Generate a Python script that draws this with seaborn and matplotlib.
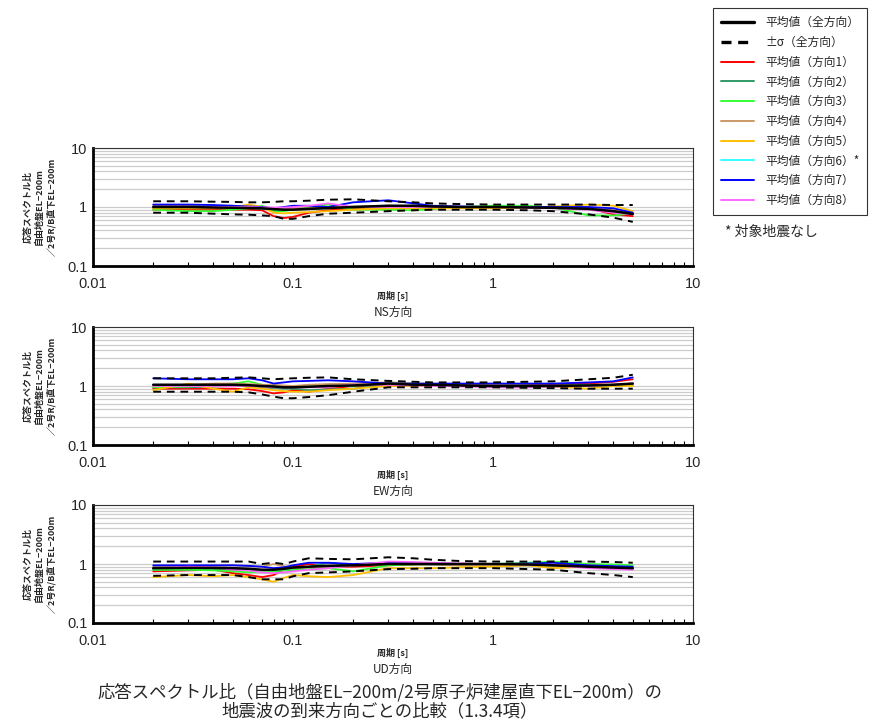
import numpy as np
import pandas as pd
import seaborn as sns
import matplotlib
matplotlib.use("Agg")
import matplotlib.pyplot as plt
from matplotlib.ticker import LogLocator, FixedLocator, NullFormatter
from matplotlib.lines import Line2D

# ---------------- data ----------------
period = [0.02, 0.03, 0.04, 0.05, 0.06, 0.07, 0.08, 0.09, 0.1, 0.12, 0.15,
          0.2, 0.3, 0.4, 0.5, 0.7, 1.0, 1.5, 2.0, 3.0, 4.0, 5.0]

series_names = ["平均値（全方向）", "±σ（全方向）", "平均値（方向1）", "平均値（方向2）", "平均値（方向3）",
                "平均値（方向4）", "平均値（方向5）", "平均値（方向6）*", "平均値（方向7）", "平均値（方向8）"]
panel_labels = ["NS方向", "EW方向", "UD方向"]

# NS
ns_mean = [1.00, 1.00, 0.98, 0.97, 0.96, 0.95, 0.92, 0.90, 0.90, 0.93, 0.96, 1.00, 1.05, 1.05, 1.02, 1.00, 1.00, 0.98, 0.97, 0.93, 0.85, 0.76]
ns_up   = [1.25, 1.25, 1.23, 1.22, 1.20, 1.20, 1.22, 1.25, 1.25, 1.28, 1.33, 1.35, 1.25, 1.20, 1.15, 1.12, 1.10, 1.10, 1.10, 1.10, 1.08, 1.08]
ns_lo   = [0.80, 0.80, 0.77, 0.75, 0.74, 0.72, 0.70, 0.63, 0.63, 0.70, 0.77, 0.80, 0.85, 0.88, 0.90, 0.90, 0.90, 0.88, 0.85, 0.75, 0.66, 0.56]
ns_d1   = [0.90, 0.90, 0.90, 0.90, 0.90, 0.88, 0.70, 0.65, 0.68, 0.80, 0.88, 0.95, 1.00, 1.00, 1.00, 1.00, 1.00, 0.98, 0.97, 0.95, 0.75, 0.70]
ns_d2   = [0.95, 0.95, 0.95, 0.95, 0.95, 0.93, 0.90, 0.88, 0.90, 0.92, 0.95, 0.98, 1.02, 1.00, 1.00, 1.00, 1.00, 1.00, 1.00, 0.95, 0.82, 0.78]
ns_d3   = [0.90, 0.85, 0.85, 0.90, 0.95, 1.05, 0.85, 0.85, 0.90, 1.00, 1.10, 0.90, 0.90, 0.88, 0.92, 1.00, 1.05, 1.05, 0.98, 0.72, 0.72, 0.78]
ns_d4   = [1.05, 1.05, 1.05, 1.05, 1.02, 1.00, 0.95, 0.92, 0.95, 0.95, 0.98, 1.02, 1.05, 1.02, 1.00, 1.00, 1.00, 1.00, 1.00, 0.98, 0.88, 0.82]
ns_d5   = [0.95, 0.95, 0.95, 0.98, 1.10, 1.00, 0.80, 0.78, 0.80, 0.82, 0.85, 0.90, 0.95, 0.95, 0.95, 0.95, 0.95, 0.98, 1.02, 1.10, 1.05, 0.85]
ns_d7   = [1.10, 1.10, 1.08, 1.05, 1.02, 1.00, 0.95, 1.00, 1.05, 1.05, 1.00, 1.20, 1.30, 1.15, 1.05, 1.02, 1.00, 1.00, 1.00, 1.00, 0.95, 0.80]
ns_d8   = [1.00, 1.00, 1.00, 1.00, 1.00, 0.98, 0.98, 0.98, 1.00, 1.05, 1.15, 1.00, 1.00, 1.00, 1.00, 1.00, 1.00, 0.98, 0.95, 0.90, 0.80, 0.75]

# EW
ew_mean = [1.05, 1.05, 1.05, 1.05, 1.03, 1.00, 0.98, 0.95, 0.95, 0.97, 1.00, 1.02, 1.10, 1.05, 1.05, 1.02, 1.00, 1.00, 1.00, 1.02, 1.05, 1.10]
ew_up   = [1.35, 1.35, 1.35, 1.38, 1.40, 1.35, 1.30, 1.33, 1.35, 1.38, 1.40, 1.30, 1.22, 1.18, 1.15, 1.15, 1.15, 1.18, 1.20, 1.30, 1.38, 1.55]
ew_lo   = [0.80, 0.80, 0.80, 0.80, 0.78, 0.72, 0.66, 0.62, 0.62, 0.65, 0.70, 0.80, 0.95, 0.95, 0.95, 0.95, 0.95, 0.93, 0.92, 0.90, 0.90, 0.90]
ew_d1   = [0.90, 0.90, 0.90, 0.90, 0.88, 0.82, 0.75, 0.78, 0.85, 0.80, 0.90, 1.00, 1.00, 1.00, 1.00, 1.02, 1.05, 1.05, 1.05, 1.10, 1.18, 1.30]
ew_d2   = [0.95, 0.95, 0.98, 1.00, 1.00, 0.95, 0.92, 0.90, 0.90, 0.85, 0.88, 0.90, 1.10, 1.05, 1.02, 1.00, 1.00, 1.00, 1.02, 1.05, 1.05, 1.05]
ew_d3   = [0.95, 0.98, 1.05, 1.10, 1.20, 1.05, 1.00, 0.98, 0.95, 0.98, 1.00, 1.00, 1.15, 1.10, 1.08, 1.05, 1.05, 1.02, 1.00, 1.00, 1.02, 1.05]
ew_d4   = [1.00, 1.05, 1.10, 1.10, 1.08, 1.05, 1.05, 1.02, 1.00, 1.05, 1.08, 1.10, 1.15, 1.10, 1.08, 1.05, 1.05, 1.02, 1.00, 1.00, 1.05, 1.10]
ew_d5   = [0.85, 1.10, 0.90, 0.80, 0.95, 0.90, 0.85, 0.82, 0.80, 0.80, 0.85, 0.90, 1.00, 1.00, 1.00, 1.00, 1.00, 1.00, 0.98, 0.90, 1.00, 1.00]
ew_d7   = [1.35, 1.30, 1.30, 1.30, 1.35, 1.25, 1.10, 1.15, 1.20, 1.22, 1.25, 1.20, 1.10, 1.10, 1.10, 1.10, 1.10, 1.10, 1.10, 1.15, 1.20, 1.40]
ew_d8   = [1.00, 1.00, 1.00, 1.00, 1.00, 0.98, 0.95, 0.95, 0.95, 0.95, 0.95, 1.05, 1.05, 1.02, 1.00, 0.98, 0.95, 0.95, 0.98, 1.00, 1.05, 1.10]

# UD
ud_mean = [0.85, 0.86, 0.86, 0.85, 0.83, 0.80, 0.80, 0.83, 0.87, 0.90, 0.93, 0.95, 1.00, 1.00, 1.00, 1.00, 1.00, 0.98, 0.95, 0.90, 0.87, 0.85]
ud_up   = [1.10, 1.10, 1.10, 1.10, 1.10, 1.00, 1.05, 1.00, 1.10, 1.25, 1.22, 1.20, 1.30, 1.25, 1.18, 1.12, 1.10, 1.10, 1.10, 1.10, 1.08, 1.05]
ud_lo   = [0.63, 0.65, 0.65, 0.65, 0.60, 0.55, 0.55, 0.55, 0.62, 0.70, 0.72, 0.75, 0.82, 0.83, 0.85, 0.85, 0.85, 0.82, 0.80, 0.70, 0.65, 0.60]
ud_d1   = [0.75, 0.78, 0.80, 0.70, 0.65, 0.60, 0.65, 0.80, 0.90, 1.00, 0.90, 0.90, 0.95, 0.98, 1.00, 1.00, 1.00, 0.98, 0.97, 0.95, 0.90, 0.85]
ud_d2   = [0.80, 0.80, 0.80, 0.80, 0.78, 0.75, 0.75, 0.78, 0.80, 0.90, 1.05, 0.95, 1.00, 1.00, 0.98, 0.95, 0.95, 0.95, 0.93, 0.90, 0.88, 0.85]
ud_d3   = [0.80, 0.80, 0.78, 0.75, 0.72, 0.75, 0.75, 0.78, 0.80, 0.82, 0.85, 0.75, 0.95, 0.98, 1.00, 1.00, 1.00, 1.05, 1.10, 1.00, 0.98, 0.95]
ud_d4   = [0.90, 0.92, 0.93, 0.95, 0.92, 0.90, 1.00, 0.92, 0.85, 0.88, 0.90, 0.95, 1.00, 1.00, 0.98, 0.95, 0.95, 0.95, 0.95, 0.95, 0.90, 0.85]
ud_d5   = [0.60, 0.65, 0.62, 0.65, 0.60, 0.55, 0.50, 0.58, 0.65, 0.62, 0.60, 0.65, 0.85, 0.85, 0.85, 0.88, 0.90, 0.95, 0.85, 0.90, 0.88, 0.85]
ud_d7   = [0.95, 0.95, 0.95, 0.95, 0.93, 0.90, 0.85, 0.88, 0.95, 1.05, 1.05, 1.00, 1.05, 1.05, 1.02, 1.00, 1.00, 1.02, 1.05, 0.95, 0.92, 0.90]
ud_d8   = [0.85, 0.90, 0.88, 0.80, 0.78, 0.72, 0.70, 0.72, 0.75, 0.80, 0.85, 0.95, 1.10, 1.08, 1.05, 1.02, 1.00, 0.98, 0.95, 0.85, 0.82, 0.80]

panels = [
    dict(mean=ns_mean, up=ns_up, lo=ns_lo, dirs=[ns_d1, ns_d2, ns_d3, ns_d4, ns_d5, None, ns_d7, ns_d8]),
    dict(mean=ew_mean, up=ew_up, lo=ew_lo, dirs=[ew_d1, ew_d2, ew_d3, ew_d4, ew_d5, None, ew_d7, ew_d8]),
    dict(mean=ud_mean, up=ud_up, lo=ud_lo, dirs=[ud_d1, ud_d2, ud_d3, ud_d4, ud_d5, None, ud_d7, ud_d8]),
]

dir_colors = ["#ff0000", "#339966", "#33ff33", "#cc9966", "#ffc000", "#33ffff", "#0000ff", "#ff66ff"]

# ---------------- style ----------------
sns.set_theme(style="white")
plt.rcParams['font.family'] = ['Noto Sans CJK JP', 'DejaVu Sans']

fig = plt.figure(figsize=(8.72, 7.28), dpi=100)

ylabel = "応答スペクトル比\n自由地盤EL−200m\n／2号R/B直下EL−200m"
bottoms = [1 - 266 / 728, 1 - 445 / 728, 1 - 623 / 728]
for pi, (pan, b) in enumerate(zip(panels, bottoms)):
    ax = fig.add_axes([93 / 872, b, 600 / 872, 118 / 728])
    ax.set_xscale("log")
    ax.set_yscale("log")
    ax.set_xlim(0.01, 10)
    ax.set_ylim(0.1, 10)
    ax.yaxis.set_major_locator(FixedLocator([0.1, 1, 10]))
    ax.yaxis.set_minor_locator(LogLocator(base=10, subs=np.arange(2, 10)))
    ax.yaxis.set_minor_formatter(NullFormatter())
    ax.set_yticklabels(["0.1", "1", "10"])
    ax.grid(True, axis="y", which="both", color="#cccccc", linewidth=0.9)
    ax.grid(False, axis="x", which="both")
    ax.xaxis.set_major_locator(FixedLocator([0.01, 0.1, 1, 10]))
    ax.set_xticklabels(["0.01", "0.1", "1", "10"])
    ax.xaxis.set_minor_locator(LogLocator(base=10, subs=np.arange(2, 10)))
    ax.xaxis.set_minor_formatter(NullFormatter())
    ax.tick_params(axis="x", which="both", direction="in", length=3, width=0.8,
                   color="black", bottom=True, labelsize=10.5, pad=8)
    ax.tick_params(axis="y", which="both", length=0, labelsize=10.5, pad=4)
    for t in ax.get_xticklabels() + ax.get_yticklabels():
        t.set_family(["Liberation Sans", "DejaVu Sans"])

    for s in ["left", "bottom"]:
        ax.spines[s].set_color("black")
        ax.spines[s].set_linewidth(2)
    for s in ["top", "right"]:
        ax.spines[s].set_color("#333333")
        ax.spines[s].set_linewidth(0.8)

    for i, d in enumerate(pan["dirs"]):
        if d is None:
            continue
        sns.lineplot(x=period, y=d, ax=ax, color=dir_colors[i], linewidth=1.3,
                     estimator=None, sort=False)
    sns.lineplot(x=period, y=pan["mean"], ax=ax, color="black", linewidth=1.8,
                 estimator=None, sort=False)
    for band in (pan["up"], pan["lo"]):
        sns.lineplot(x=period, y=band, ax=ax, color="black", linewidth=1.4,
                     linestyle=(0, (4, 3)), estimator=None, sort=False)

    ax.set_xlabel("")
    ax.set_ylabel(ylabel, fontsize=6.5, fontweight="bold", linespacing=1.3, labelpad=8)
    ax.text(0.5, -0.255, "周期 [s]", transform=ax.transAxes, ha="center", va="center",
            fontsize=6.5, fontweight="bold")
    ax.text(0.5, -0.39, panel_labels[pi], transform=ax.transAxes, ha="center", va="center",
            fontsize=8.5)

# legend
handles = [Line2D([], [], color="black", linewidth=2.4),
           Line2D([], [], color="black", linewidth=2.4, linestyle=(0, (3, 2)))]
handles += [Line2D([], [], color=c, linewidth=1.4) for c in dir_colors]
leg = fig.legend(handles, series_names, loc="upper left",
                 bbox_to_anchor=(713 / 872, 1 - 8 / 728), frameon=True, fontsize=8.5,
                 handlelength=2.8, labelspacing=0.57, borderpad=0.7, handletextpad=0.9,
                 borderaxespad=0, fancybox=False, edgecolor="black")
leg.get_frame().set_linewidth(0.8)

fig.text(725 / 872, 1 - 232 / 728, "* 対象地震なし", fontsize=10, ha="left", va="center")

fig.text(380 / 872, 1 - 692 / 728, "応答スペクトル比（自由地盤EL−200m/2号原子炉建屋直下EL−200m）の",
         fontsize=12.5, ha="center", va="center")
fig.text(380 / 872, 1 - 711 / 728, "地震波の到来方向ごとの比較（1.3.4項）",
         fontsize=12.5, ha="center", va="center")

fig.savefig("out.png", dpi=100)
